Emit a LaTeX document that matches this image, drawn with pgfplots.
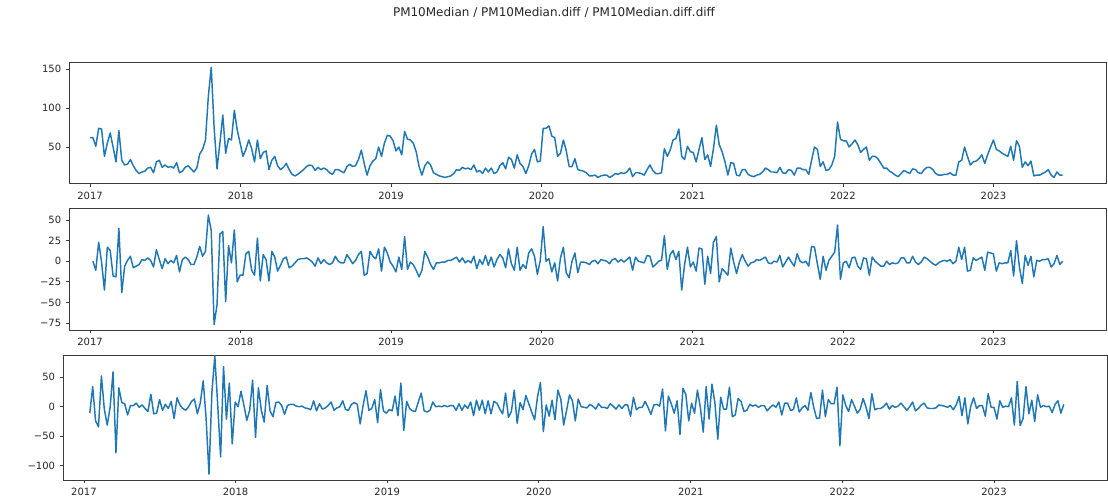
\documentclass[border=0pt]{standalone}
\usepackage{fontspec}
\setmainfont{DejaVu Sans}
\usepackage{pgfplots}
\pgfplotsset{compat=1.18}
\definecolor{mplblue}{HTML}{1F77B4}
\definecolor{spine}{HTML}{3A3A3A}

% weekly series, x in days since 2017-01-01
\pgfplotsset{
  tsaxis/.style={
    scale only axis,
    anchor=south west,
    xmin=-50, xmax=2465,
    axis line style={draw=spine, line width=0.6pt},
    tick style={draw=spine, line width=0.6pt},
    tick align=outside,
    major tick length=2.6pt,
    xtick pos=bottom, ytick pos=left,
    xtick={0,365,730,1095,1461,1826,2191},
    xticklabels={2017,2018,2019,2020,2021,2022,2023},
    ticklabel style={font=\fontsize{7.5}{9}\selectfont, text=black!85},
  },
  series/.style={draw=mplblue, line width=1.1pt, line join=round, no markers},
}

\begin{document}
\begin{tikzpicture}
\path[use as bounding box] (0,0) rectangle (831pt,372.75pt);

\node[font=\fontsize{9}{11}\selectfont, text=black!85] at (415.5pt,363.2pt) {PM10Median / PM10Median.diff / PM10Median.diff.diff};

% level
\begin{axis}[tsaxis, at={(52.05pt,235.1pt)}, width=777.75pt, height=90.75pt,
  ymin=3.2, ymax=158.3, ytick={50,100,150}, yticklabels={50,100,150}]
\addplot[series] coordinates {(0,62) (7,62) (14,51) (21,74) (28,73) (35,38) (42,55) (49,68) (56,50) (63,31) (70,71) (77,33) (84,27) (91,28) (98,34) (105,26) (112,20) (119,16) (126,18) (133,19) (140,23) (147,24) (154,17) (161,31) (168,33) (175,24) (182,27) (189,24) (196,25) (203,23) (210,30) (217,17) (224,19) (231,24) (238,26) (245,22) (252,18) (259,23) (266,41) (273,47) (280,59) (287,115) (294,152) (301,75) (308,22) (315,55) (322,91) (329,42) (336,61) (343,59) (350,97) (357,72) (364,55) (371,38) (378,47) (385,59) (392,48) (399,31) (406,59) (413,35) (420,43) (427,45) (434,21) (441,33) (448,38) (455,26) (462,21) (469,24) (476,29) (483,21) (490,15) (497,13) (504,15) (511,18) (518,21) (525,25) (532,27) (539,26) (546,20) (553,24) (560,21) (567,23) (574,21) (581,17) (588,15) (595,21) (602,21) (609,19) (616,17) (623,25) (630,28) (637,25) (644,26) (651,34) (658,46) (665,29) (672,14) (679,26) (686,32) (693,35) (700,50) (707,38) (714,55) (721,65) (728,64) (735,58) (742,45) (749,50) (756,40) (763,70) (770,60) (777,59) (784,55) (791,44) (798,25) (805,14) (812,26) (819,31) (826,27) (833,17) (840,15) (847,13) (854,12) (861,11) (868,12) (875,13) (882,16) (889,21) (896,20) (903,24) (910,22) (917,23) (924,21) (931,27) (938,18) (945,20) (952,16) (959,23) (966,18) (973,23) (980,16) (987,18) (994,26) (1001,30) (1008,22) (1015,37) (1022,34) (1029,23) (1036,40) (1043,29) (1050,25) (1057,16) (1064,26) (1071,41) (1078,47) (1085,31) (1092,32) (1099,74) (1106,74) (1113,77) (1120,64) (1127,62) (1134,38) (1141,42) (1148,59) (1155,45) (1162,25) (1169,25) (1176,35) (1183,21) (1190,20) (1197,19) (1204,17) (1211,13) (1218,13) (1225,14) (1232,11) (1239,13) (1246,14) (1253,14) (1260,11) (1267,13) (1274,16) (1281,15) (1288,17) (1295,16) (1302,18) (1309,23) (1316,12) (1323,17) (1330,17) (1337,16) (1344,14) (1351,21) (1358,27) (1365,20) (1372,16) (1379,16) (1386,17) (1393,48) (1400,38) (1407,46) (1414,59) (1421,61) (1428,73) (1435,38) (1442,34) (1449,51) (1456,44) (1463,43) (1470,31) (1477,47) (1484,62) (1491,34) (1498,40) (1505,25) (1512,48) (1519,78) (1526,53) (1533,44) (1540,31) (1547,14) (1554,30) (1561,29) (1568,14) (1575,13) (1582,21) (1589,21) (1596,15) (1603,13) (1610,12) (1617,14) (1624,15) (1631,18) (1638,23) (1645,21) (1652,18) (1659,18) (1666,17) (1673,24) (1680,17) (1687,16) (1694,21) (1701,20) (1708,14) (1715,23) (1722,23) (1729,21) (1736,21) (1743,15) (1750,33) (1757,50) (1764,47) (1771,25) (1778,31) (1785,20) (1792,21) (1799,27) (1806,38) (1813,82) (1820,60) (1827,58) (1834,58) (1841,50) (1848,54) (1855,59) (1862,53) (1869,43) (1876,47) (1883,50) (1890,33) (1897,38) (1904,38) (1911,35) (1918,29) (1925,23) (1932,23) (1939,19) (1946,17) (1953,14) (1960,12) (1967,16) (1974,20) (1981,18) (1988,16) (1995,22) (2002,21) (2009,17) (2016,16) (2023,21) (2030,24) (2037,24) (2044,21) (2051,16) (2058,14) (2065,14) (2072,15) (2079,15) (2086,17) (2093,14) (2100,14) (2107,31) (2114,33) (2121,50) (2128,38) (2135,27) (2142,31) (2149,32) (2156,35) (2163,40) (2170,29) (2177,40) (2184,50) (2191,59) (2198,47) (2205,45) (2212,42) (2219,40) (2226,38) (2233,51) (2240,33) (2247,58) (2254,51) (2261,24) (2268,31) (2275,26) (2282,32) (2289,13) (2296,14) (2303,14) (2310,16) (2317,18) (2324,21) (2331,14) (2338,11) (2345,18) (2352,14) (2359,14)};
\end{axis}

% first difference
\begin{axis}[tsaxis, at={(52.05pt,125.25pt)}, width=777.75pt, height=91.5pt,
  ymin=-83.5, ymax=64.6, ytick={-75,-50,-25,0,25,50},
  yticklabels={−75,−50,−25,0,25,50}]
\addplot[series] coordinates {(7,0) (14,-11) (21,23) (28,-1) (35,-35) (42,17) (49,13) (56,-18) (63,-19) (70,40) (77,-38) (84,-6) (91,1) (98,6) (105,-8) (112,-6) (119,-4) (126,2) (133,1) (140,4) (147,1) (154,-7) (161,14) (168,2) (175,-9) (182,3) (189,-3) (196,1) (203,-2) (210,7) (217,-13) (224,2) (231,5) (238,2) (245,-4) (252,-4) (259,5) (266,18) (273,6) (280,12) (287,56) (294,37) (301,-77) (308,-53) (315,33) (322,36) (329,-49) (336,19) (343,-2) (350,38) (357,-25) (364,-17) (371,-17) (378,9) (385,12) (392,-11) (399,-17) (406,28) (413,-24) (420,8) (427,2) (434,-24) (441,12) (448,5) (455,-12) (462,-5) (469,3) (476,5) (483,-8) (490,-6) (497,-2) (504,2) (511,3) (518,3) (525,4) (532,2) (539,-1) (546,-6) (553,4) (560,-3) (567,2) (574,-2) (581,-4) (588,-2) (595,6) (602,0) (609,-2) (616,-2) (623,8) (630,3) (637,-3) (644,1) (651,8) (658,12) (665,-17) (672,-15) (679,12) (686,6) (693,3) (700,15) (707,-12) (714,17) (721,10) (728,-1) (735,-6) (742,-13) (749,5) (756,-10) (763,30) (770,-10) (777,-1) (784,-4) (791,-11) (798,-19) (805,-11) (812,12) (819,5) (826,-4) (833,-10) (840,-2) (847,-2) (854,-1) (861,-1) (868,1) (875,1) (882,3) (889,5) (896,-1) (903,4) (910,-2) (917,1) (924,-2) (931,6) (938,-9) (945,2) (952,-4) (959,7) (966,-5) (973,5) (980,-7) (987,2) (994,8) (1001,4) (1008,-8) (1015,15) (1022,-3) (1029,-11) (1036,17) (1043,-11) (1050,-4) (1057,-9) (1064,10) (1071,15) (1078,6) (1085,-16) (1092,1) (1099,42) (1106,0) (1113,3) (1120,-13) (1127,-2) (1134,-24) (1141,4) (1148,17) (1155,-14) (1162,-20) (1169,0) (1176,10) (1183,-14) (1190,-1) (1197,-1) (1204,-2) (1211,-4) (1218,0) (1225,1) (1232,-3) (1239,2) (1246,1) (1253,0) (1260,-3) (1267,2) (1274,3) (1281,-1) (1288,2) (1295,-1) (1302,2) (1309,5) (1316,-11) (1323,5) (1330,0) (1337,-1) (1344,-2) (1351,7) (1358,6) (1365,-7) (1372,-4) (1379,0) (1386,1) (1393,31) (1400,-10) (1407,8) (1414,13) (1421,2) (1428,12) (1435,-35) (1442,-4) (1449,17) (1456,-7) (1463,-1) (1470,-12) (1477,16) (1484,15) (1491,-28) (1498,6) (1505,-15) (1512,23) (1519,30) (1526,-25) (1533,-9) (1540,-13) (1547,-17) (1554,16) (1561,-1) (1568,-15) (1575,-1) (1582,8) (1589,0) (1596,-6) (1603,-2) (1610,-1) (1617,2) (1624,1) (1631,3) (1638,5) (1645,-2) (1652,-3) (1659,0) (1666,-1) (1673,7) (1680,-7) (1687,-1) (1694,5) (1701,-1) (1708,-6) (1715,9) (1722,0) (1729,-2) (1736,0) (1743,-6) (1750,18) (1757,17) (1764,-3) (1771,-22) (1778,6) (1785,-11) (1792,1) (1799,6) (1806,11) (1813,44) (1820,-22) (1827,-2) (1834,0) (1841,-8) (1848,4) (1855,5) (1862,-6) (1869,-10) (1876,4) (1883,3) (1890,-17) (1897,5) (1904,0) (1911,-3) (1918,-6) (1925,-6) (1932,0) (1939,-4) (1946,-2) (1953,-3) (1960,-2) (1967,4) (1974,4) (1981,-2) (1988,-2) (1995,6) (2002,-1) (2009,-4) (2016,-1) (2023,5) (2030,3) (2037,0) (2044,-3) (2051,-5) (2058,-2) (2065,0) (2072,1) (2079,0) (2086,2) (2093,-3) (2100,0) (2107,17) (2114,2) (2121,17) (2128,-12) (2135,-11) (2142,4) (2149,1) (2156,3) (2163,5) (2170,-11) (2177,11) (2184,10) (2191,9) (2198,-12) (2205,-2) (2212,-3) (2219,-2) (2226,-2) (2233,13) (2240,-18) (2247,25) (2254,-7) (2261,-27) (2268,7) (2275,-5) (2282,6) (2289,-19) (2296,1) (2303,0) (2310,2) (2317,2) (2324,3) (2331,-7) (2338,-3) (2345,7) (2352,-4) (2359,0)};
\end{axis}

% second difference
\begin{axis}[tsaxis, at={(47.4pt,12.75pt)}, width=783.45pt, height=93.75pt,
  ymin=-124, ymax=87.5, ytick={-100,-50,0,50},
  yticklabels={−100,−50,0,50}]
\addplot[series] coordinates {(14,-11) (21,34) (28,-24) (35,-34) (42,52) (49,-4) (56,-31) (63,-1) (70,59) (77,-78) (84,32) (91,7) (98,5) (105,-14) (112,2) (119,2) (126,6) (133,-1) (140,3) (147,-3) (154,-8) (161,21) (168,-12) (175,-11) (182,12) (189,-6) (196,4) (203,-3) (210,9) (217,-20) (224,15) (231,3) (238,-3) (245,-6) (252,0) (259,9) (266,13) (273,-12) (280,6) (287,44) (294,-19) (301,-114) (308,24) (315,86) (322,3) (329,-85) (336,68) (343,-21) (350,40) (357,-63) (364,8) (371,0) (378,26) (385,3) (392,-23) (399,-6) (406,45) (413,-52) (420,32) (427,-6) (434,-26) (441,36) (448,-7) (455,-17) (462,7) (469,8) (476,2) (483,-13) (490,2) (497,4) (504,4) (511,1) (518,0) (525,1) (532,-2) (539,-3) (546,-5) (553,10) (560,-7) (567,5) (574,-4) (581,-2) (588,2) (595,8) (602,-6) (609,-2) (616,0) (623,10) (630,-5) (637,-6) (644,4) (651,7) (658,4) (665,-29) (672,2) (679,27) (686,-6) (693,-3) (700,12) (707,-27) (714,29) (721,-7) (728,-11) (735,-5) (742,-7) (749,18) (756,-15) (763,40) (770,-40) (777,9) (784,-3) (791,-7) (798,-8) (805,8) (812,23) (819,-7) (826,-9) (833,-6) (840,8) (847,0) (854,1) (861,0) (868,2) (875,0) (882,2) (889,2) (896,-6) (903,5) (910,-6) (917,3) (924,-3) (931,8) (938,-15) (945,11) (952,-6) (959,11) (966,-12) (973,10) (980,-12) (987,9) (994,6) (1001,-4) (1008,-12) (1015,23) (1022,-18) (1029,-8) (1036,28) (1043,-28) (1050,7) (1057,-5) (1064,19) (1071,5) (1078,-9) (1085,-22) (1092,17) (1099,41) (1106,-42) (1113,3) (1120,-16) (1127,11) (1134,-22) (1141,28) (1148,13) (1155,-31) (1162,-6) (1169,20) (1176,10) (1183,-24) (1190,13) (1197,0) (1204,-1) (1211,-2) (1218,4) (1225,1) (1232,-4) (1239,5) (1246,-1) (1253,-1) (1260,-3) (1267,5) (1274,1) (1281,-4) (1288,3) (1295,-3) (1302,3) (1309,3) (1316,-16) (1323,16) (1330,-5) (1337,-1) (1344,-1) (1351,9) (1358,-1) (1365,-13) (1372,3) (1379,4) (1386,1) (1393,30) (1400,-41) (1407,18) (1414,5) (1421,-11) (1428,10) (1435,-47) (1442,31) (1449,21) (1456,-24) (1463,6) (1470,-11) (1477,28) (1484,-1) (1491,-43) (1498,34) (1505,-21) (1512,38) (1519,7) (1526,-55) (1533,16) (1540,-4) (1547,-4) (1554,33) (1561,-17) (1568,-14) (1575,14) (1582,9) (1589,-8) (1596,-6) (1603,4) (1610,1) (1617,3) (1624,-1) (1631,2) (1638,2) (1645,-7) (1652,-1) (1659,3) (1666,-1) (1673,8) (1680,-14) (1687,6) (1694,6) (1701,-6) (1708,-5) (1715,15) (1722,-9) (1729,-2) (1736,2) (1743,-6) (1750,24) (1757,-1) (1764,-20) (1771,-19) (1778,28) (1785,-17) (1792,12) (1799,5) (1806,5) (1813,33) (1820,-66) (1827,20) (1834,2) (1841,-8) (1848,12) (1855,1) (1862,-11) (1869,-4) (1876,14) (1883,-1) (1890,-20) (1897,22) (1904,-5) (1911,-3) (1918,-3) (1925,0) (1932,6) (1939,-4) (1946,2) (1953,-1) (1960,1) (1967,6) (1974,0) (1981,-6) (1988,0) (1995,8) (2002,-7) (2009,-3) (2016,3) (2023,6) (2030,-2) (2037,-3) (2044,-3) (2051,-2) (2058,3) (2065,2) (2072,1) (2079,-1) (2086,2) (2093,-5) (2100,3) (2107,17) (2114,-15) (2121,15) (2128,-29) (2135,1) (2142,15) (2149,-3) (2156,2) (2163,2) (2170,-16) (2177,22) (2184,-1) (2191,-1) (2198,-21) (2205,10) (2212,-1) (2219,1) (2226,0) (2233,15) (2240,-31) (2247,43) (2254,-32) (2261,-20) (2268,34) (2275,-12) (2282,11) (2289,-25) (2296,20) (2303,-1) (2310,2) (2317,0) (2324,1) (2331,-10) (2338,4) (2345,10) (2352,-11) (2359,4)};
\end{axis}
\end{tikzpicture}
\end{document}
